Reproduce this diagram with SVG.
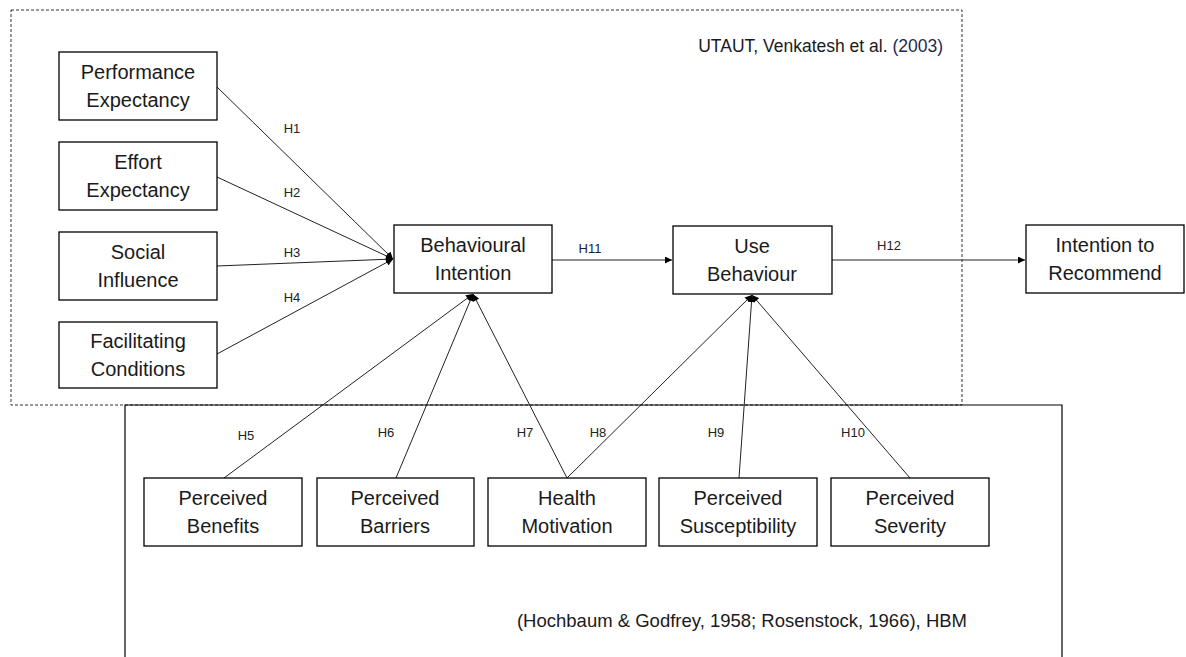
<svg xmlns="http://www.w3.org/2000/svg" width="1186" height="657" viewBox="0 0 1186 657">
<defs>
<style>
.box{fill:#fff;stroke:#000;stroke-width:1.3}
.t{font-family:"Liberation Sans",Arial,sans-serif;font-size:20px;fill:#1a1a1a;text-anchor:middle}
.h{font-family:"Liberation Sans",Arial,sans-serif;font-size:13px;fill:#222;text-anchor:middle}
.c{font-family:"Liberation Sans",Arial,sans-serif;font-size:17.5px;fill:#1a1a1a;text-anchor:end}
.ln{stroke:#222;stroke-width:1;fill:none;marker-end:url(#ah)}
</style>
<marker id="ah" viewBox="0 0 10 10" refX="10" refY="5" markerWidth="8" markerHeight="7" markerUnits="userSpaceOnUse" orient="auto">
<path d="M0,0 L10,5 L0,10 z" fill="#000"/>
</marker>
</defs>
<rect width="1186" height="657" fill="#fff"/>
<g id="frames">
<rect x="11" y="10" width="951" height="395" fill="none" stroke="#333" stroke-width="1" stroke-dasharray="3,2"/>
<path d="M125,657 L125,405 L1062,405 L1062,657" fill="none" stroke="#000" stroke-width="1.2"/>
<text class="c" x="943" y="52">UTAUT, Venkatesh et al. <tspan fill="#1f2a4a">(2003)</tspan></text>
<text class="c" x="967" y="627" style="font-size:18.5px">(Hochbaum &amp; Godfrey, 1958; Rosenstock, 1966), HBM</text>
</g>
<g id="connectors">
<line class="ln" x1="217" y1="87" x2="393" y2="259"/>
<line class="ln" x1="217" y1="177" x2="393" y2="259"/>
<line class="ln" x1="217" y1="266" x2="393" y2="259"/>
<line class="ln" x1="217" y1="354" x2="393" y2="259"/>
<line class="ln" x1="552" y1="260" x2="672" y2="260"/>
<line class="ln" x1="832" y1="260" x2="1025" y2="260"/>
<line class="ln" x1="224" y1="478" x2="473" y2="294"/>
<line class="ln" x1="396" y1="478" x2="473" y2="294"/>
<line class="ln" x1="567" y1="478" x2="473" y2="294"/>
<line class="ln" x1="567" y1="478" x2="752" y2="295"/>
<line class="ln" x1="739" y1="478" x2="752" y2="295"/>
<line class="ln" x1="910" y1="478" x2="752" y2="295"/>
<text class="h" x="292" y="133">H1</text>
<text class="h" x="292" y="197">H2</text>
<text class="h" x="292" y="257">H3</text>
<text class="h" x="292" y="302">H4</text>
<text class="h" x="590" y="253">H11</text>
<text class="h" x="889" y="250">H12</text>
<text class="h" x="246" y="440">H5</text>
<text class="h" x="386" y="437">H6</text>
<text class="h" x="525" y="437">H7</text>
<text class="h" x="598" y="437">H8</text>
<text class="h" x="716" y="437">H9</text>
<text class="h" x="853" y="437">H10</text>
</g>
<g id="pe"><rect class="box" x="59" y="52" width="158" height="68"/><text class="t" x="138" y="79">Performance</text><text class="t" x="138" y="107">Expectancy</text></g>
<g id="ee"><rect class="box" x="59" y="142" width="158" height="68"/><text class="t" x="138" y="169">Effort</text><text class="t" x="138" y="197">Expectancy</text></g>
<g id="si"><rect class="box" x="59" y="232" width="158" height="68"/><text class="t" x="138" y="259">Social</text><text class="t" x="138" y="287">Influence</text></g>
<g id="fc"><rect class="box" x="59" y="322" width="158" height="66"/><text class="t" x="138" y="348">Facilitating</text><text class="t" x="138" y="376">Conditions</text></g>
<g id="bi"><rect class="box" x="394" y="225" width="158" height="68"/><text class="t" x="473" y="252">Behavioural</text><text class="t" x="473" y="280">Intention</text></g>
<g id="ub"><rect class="box" x="673" y="226" width="159" height="68"/><text class="t" x="752" y="253">Use</text><text class="t" x="752" y="281">Behaviour</text></g>
<g id="ir"><rect class="box" x="1026" y="225" width="158" height="68"/><text class="t" x="1105" y="252">Intention to</text><text class="t" x="1105" y="280">Recommend</text></g>
<g id="pb"><rect class="box" x="144" y="478" width="158" height="68"/><text class="t" x="223" y="505">Perceived</text><text class="t" x="223" y="533">Benefits</text></g>
<g id="pbar"><rect class="box" x="317" y="478" width="157" height="68"/><text class="t" x="395" y="505">Perceived</text><text class="t" x="395" y="533">Barriers</text></g>
<g id="hm"><rect class="box" x="488" y="478" width="158" height="68"/><text class="t" x="567" y="505">Health</text><text class="t" x="567" y="533">Motivation</text></g>
<g id="psu"><rect class="box" x="659" y="478" width="158" height="68"/><text class="t" x="738" y="505">Perceived</text><text class="t" x="738" y="533">Susceptibility</text></g>
<g id="pse"><rect class="box" x="831" y="478" width="158" height="68"/><text class="t" x="910" y="505">Perceived</text><text class="t" x="910" y="533">Severity</text></g>
</svg>
